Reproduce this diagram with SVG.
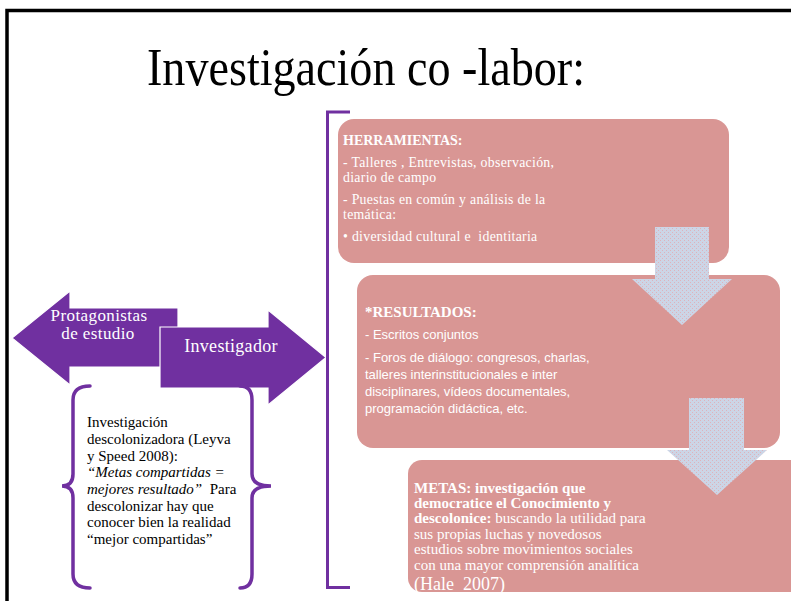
<svg xmlns="http://www.w3.org/2000/svg" width="791" height="601" viewBox="0 0 791 601">
  <defs>
    <pattern id="dots" width="4" height="4" patternUnits="userSpaceOnUse">
      <rect width="4" height="4" fill="#CCD5E6"/>
      <rect x="0" y="0" width="1" height="1" fill="#DDB3BC"/>
      <rect x="2" y="2" width="1" height="1" fill="#DDB3BC"/>
    </pattern>
    <style>
      .serif { font-family: "Liberation Serif", "Times New Roman", serif; }
      .sans { font-family: "Liberation Sans", Arial, sans-serif; }
      .purple { fill: #7030A0; stroke: #FFFFFF; stroke-width: 1.2; }
      .box { fill: #D99694; }
      .wt { fill: #FFFFFF; }
      .brace { fill: none; stroke: #7030A0; stroke-width: 3.5; stroke-linecap: round; }
      .down { fill: url(#dots); }
      text { white-space: pre; }
    </style>
  </defs>
  <rect width="791" height="601" fill="#FFFFFF"/>
  <!-- frame -->
  <path d="M7,601 L7,10.5 L791,10.5" fill="none" stroke="#000000" stroke-width="3.5"/>

  <g id="title">
    <text class="serif" x="147" y="85" font-size="52" textLength="438" lengthAdjust="spacingAndGlyphs" fill="#000000">Investigación co -labor:</text>
  </g>

  <g id="protagonistas">
    <polygon class="purple" points="12,338 70,291 70,308 178,308 178,367 70,367 70,385"/>
    <text class="serif wt" font-size="17" text-anchor="middle" letter-spacing="0.4"><tspan x="99" y="321">Protagonistas</tspan><tspan x="98" y="339">de estudio</tspan></text>
  </g>

  <g id="investigador">
    <polygon class="purple" points="160,327 268,327 268,310 326,357.5 268,405 268,388 160,388"/>
    <text class="serif wt" x="231" y="352" font-size="18" text-anchor="middle" letter-spacing="0.3">Investigador</text>
  </g>

  <g id="descolonizadora">
    <path class="brace" d="M90,386 Q73,386 73,400 L73,474 Q73,486 62,486 Q73,486 73,498 L73,574 Q73,588 90,588"/>
    <path class="brace" d="M240,386 Q252,386 252,400 L252,474 Q252,486 271,486 Q252,486 252,498 L252,574 Q252,588 240,588"/>
    <text class="serif" font-size="15" fill="#000000"><tspan x="87" y="427">Investigación</tspan><tspan x="87" y="444">descolonizadora (Leyva</tspan><tspan x="87" y="461">y Speed 2008):</tspan><tspan x="87" y="477" font-style="italic">“Metas compartidas =</tspan><tspan x="87" y="494"><tspan font-style="italic">mejores resultado”</tspan>  Para</tspan><tspan x="87" y="511">descolonizar hay que</tspan><tspan x="87" y="527">conocer bien la realidad</tspan><tspan x="87" y="544">“mejor compartidas”</tspan></text>
  </g>

  <g id="herramientas">
    <rect class="box" x="338" y="119" width="391" height="144" rx="16"/>
    <text class="serif wt" font-size="13.8"><tspan x="343" y="145" font-weight="bold" font-size="14">HERRAMIENTAS:</tspan><tspan x="343" y="167" letter-spacing="0.3">- Talleres , Entrevistas, observación,</tspan><tspan x="343" y="182" letter-spacing="0.3">diario de campo</tspan><tspan x="343" y="204" letter-spacing="0.3">- Puestas en común y análisis de la</tspan><tspan x="343" y="219" letter-spacing="0.3">temática:</tspan><tspan x="343" y="241" letter-spacing="0.3">• diversidad cultural e  identitaria</tspan></text>
  </g>

  <g id="resultados">
    <rect class="box" x="357" y="275" width="423" height="173" rx="16"/>
    <text class="serif wt" x="365" y="317" font-size="15" font-weight="bold">*RESULTADOS:</text>
    <text class="sans wt" font-size="13"><tspan x="365" y="339">- Escritos conjuntos</tspan><tspan x="365" y="362">- Foros de diálogo: congresos, charlas,</tspan><tspan x="365" y="379">talleres interinstitucionales e inter</tspan><tspan x="365" y="396">disciplinares, vídeos documentales,</tspan><tspan x="365" y="413">programación didáctica, etc.</tspan></text>
  </g>

  <g id="metas">
    <rect class="box" x="408" y="460" width="400" height="132" rx="14"/>
    <text class="serif wt" font-size="15"><tspan x="414" y="493" font-weight="bold">METAS: investigación que</tspan><tspan x="414" y="508" font-weight="bold">democratice el Conocimiento y</tspan><tspan x="414" y="523"><tspan font-weight="bold">descolonice:</tspan> buscando la utilidad para</tspan><tspan x="414" y="539">sus propias luchas y novedosos</tspan><tspan x="414" y="554">estudios sobre movimientos sociales</tspan><tspan x="414" y="570">con una mayor comprensión analítica</tspan><tspan x="414" y="590" font-size="18">(Hale  2007)</tspan></text>
  </g>

  <g id="connectors">
    <path d="M350,112 L327.5,112 L327.5,587.5 L350,587.5" fill="none" stroke="#7030A0" stroke-width="3"/>
    <polygon class="down" points="655,227 709,227 709,279 732,279 682,325 632,279 655,279"/>
    <polygon class="down" points="689,398 744,398 744,450 767,450 717,495 667,450 689,450"/>
  </g>
</svg>
